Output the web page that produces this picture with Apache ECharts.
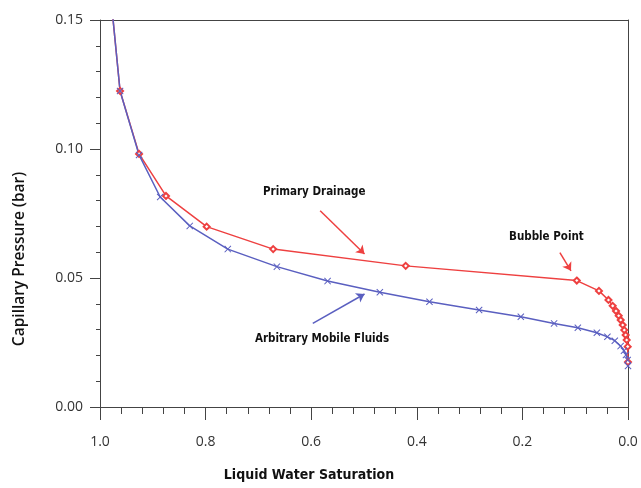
<!DOCTYPE html>
<html><head><meta charset="utf-8">
<script src="https://cdn.jsdelivr.net/npm/echarts@6/dist/echarts.min.js"></script>
<style>html,body{margin:0;padding:0;background:#fff}#c{width:641px;height:488px}</style>
</head><body><div id="c"></div>
<script>
// Primary Drainage (red): [saturation, pressure]
const drainageSat = [0.980, 0.962, 0.926, 0.875, 0.798, 0.672, 0.421, 0.097, 0.055, 0.037, 0.029, 0.0227, 0.0176, 0.0138, 0.0100, 0.0070, 0.0044, 0.0025, 0.0006, 0.0];
const drainageP   = [0.160, 0.1225, 0.0981, 0.0818, 0.0699, 0.0612, 0.0547, 0.0490, 0.0450, 0.0415, 0.0392, 0.0372, 0.0354, 0.0337, 0.0318, 0.0298, 0.0279, 0.0260, 0.0234, 0.0174];
// Arbitrary Mobile Fluids (blue)
const mobileSat = [0.980, 0.962, 0.926, 0.886, 0.830, 0.758, 0.665, 0.569, 0.470, 0.376, 0.282, 0.203, 0.140, 0.095, 0.059, 0.039, 0.025, 0.014, 0.0076, 0.0038, 0.0006, 0.0];
const mobileP   = [0.160, 0.1225, 0.0977, 0.0814, 0.0702, 0.0612, 0.0544, 0.0488, 0.0445, 0.0408, 0.0376, 0.0350, 0.0324, 0.0307, 0.0288, 0.0272, 0.0257, 0.0236, 0.0218, 0.0202, 0.0182, 0.0159];
const xTicks = [1.0, 0.8, 0.6, 0.4, 0.2, 0.0];
const yTicks = [0.00, 0.05, 0.10, 0.15];
// annotation arrows in data coordinates [x, y] -> [x, y]
const drainageArrow = [[0.583, 0.0761], [0.499, 0.0593]];
const mobileArrow = [[0.597, 0.0324], [0.499, 0.0438]];
const bubbleArrow = [[0.129, 0.0598], [0.108, 0.0528]];

const RED = '#ee4040', BLUE = '#5a5fc0', AX = '#444';
const zip = (a, b) => a.map((v, i) => [v, b[i]]);
const xShape = 'path://M0,1L1,0L5,4L9,0L10,1L6,5L10,9L9,10L5,6L1,10L0,9L4,5Z';
const annFont = {fontFamily: 'DejaVu Sans Condensed', fontWeight: 'bold', fontSize: 11.5, fill: '#111'};
const chart = echarts.init(document.getElementById('c'));
chart.setOption({
  animation: false,
  grid: {left: 100, right: 13, top: 20, bottom: 81},
  xAxis: [{
    type: 'value', inverse: true, min: 0, max: 1, interval: 0.2, position: 'bottom',
    axisLine: {show: true, onZero: false, lineStyle: {color: AX}},
    axisTick: {show: true, length: 13, lineStyle: {color: AX}},
    minorTick: {show: true, splitNumber: 5, length: 7, lineStyle: {color: AX}},
    splitLine: {show: false},
    axisLabel: {fontSize: 14, color: '#333', margin: 28, fontFamily: 'Open Sans',
      formatter: v => xTicks.some(t => Math.abs(t - v) < 1e-9) ? v.toFixed(1) : ''}
  }, {
    type: 'value', inverse: true, min: 0, max: 1, position: 'top',
    axisLine: {show: true, onZero: false, lineStyle: {color: AX}},
    axisTick: {show: false}, axisLabel: {show: false}, splitLine: {show: false}
  }],
  yAxis: [{
    type: 'value', min: 0, max: 0.15, interval: 0.05, position: 'left',
    axisLine: {show: true, onZero: false, lineStyle: {color: AX}},
    axisTick: {show: true, length: 10, lineStyle: {color: AX}},
    minorTick: {show: true, splitNumber: 5, length: 4, lineStyle: {color: AX}},
    splitLine: {show: false},
    axisLabel: {fontSize: 14, color: '#333', margin: 17, fontFamily: 'Open Sans',
      formatter: v => yTicks.some(t => Math.abs(t - v) < 1e-9) ? v.toFixed(2) : ''}
  }, {
    type: 'value', min: 0, max: 0.15, position: 'right',
    axisLine: {show: true, onZero: false, lineStyle: {color: AX}},
    axisTick: {show: false}, axisLabel: {show: false}, splitLine: {show: false}
  }],
  series: [
    {type: 'line', data: zip(drainageSat, drainageP), clip: true,
     symbol: 'emptyDiamond', symbolSize: 6, showAllSymbol: true,
     lineStyle: {color: RED, width: 1.5}, itemStyle: {color: RED, borderWidth: 1},
     markLine: {
       silent: true, symbol: ['none', 'arrow'], symbolSize: 8, label: {show: false},
       lineStyle: {color: RED, width: 1.5, type: 'solid'},
       data: [[{coord: drainageArrow[0]}, {coord: drainageArrow[1]}]]
     }},
    {type: 'line', data: zip(mobileSat, mobileP), clip: true,
     symbol: xShape, symbolSize: 7, showAllSymbol: true,
     lineStyle: {color: BLUE, width: 1.5}, itemStyle: {color: BLUE},
     markLine: {
       silent: true, symbol: ['none', 'arrow'], symbolSize: 8, label: {show: false},
       data: [
         [{coord: mobileArrow[0], lineStyle: {color: BLUE, width: 1.5, type: 'solid'}}, {coord: mobileArrow[1]}],
         [{coord: bubbleArrow[0], lineStyle: {color: RED, width: 1.5, type: 'solid'}}, {coord: bubbleArrow[1]}]
       ]
     }}
  ],
  graphic: [
    {type: 'text', left: 263, top: 186, style: Object.assign({text: 'Primary Drainage'}, annFont)},
    {type: 'text', left: 255, top: 333, style: Object.assign({text: 'Arbitrary Mobile Fluids'}, annFont)},
    {type: 'text', left: 509, top: 231, style: Object.assign({text: 'Bubble Point'}, annFont)},
    {type: 'text', x: 309, y: 475, style: {text: 'Liquid Water Saturation', fontFamily: 'DejaVu Sans Condensed', fontWeight: 'bold', fontSize: 14, fill: '#111', align: 'center', verticalAlign: 'middle'}},
    {type: 'text', x: 20, y: 259, rotation: Math.PI / 2, style: {text: 'Capillary Pressure (bar)', fontFamily: 'Open Sans', fontWeight: 600, fontSize: 15.5, fill: '#111', align: 'center', verticalAlign: 'middle'}}
  ]
});
</script></body></html>
